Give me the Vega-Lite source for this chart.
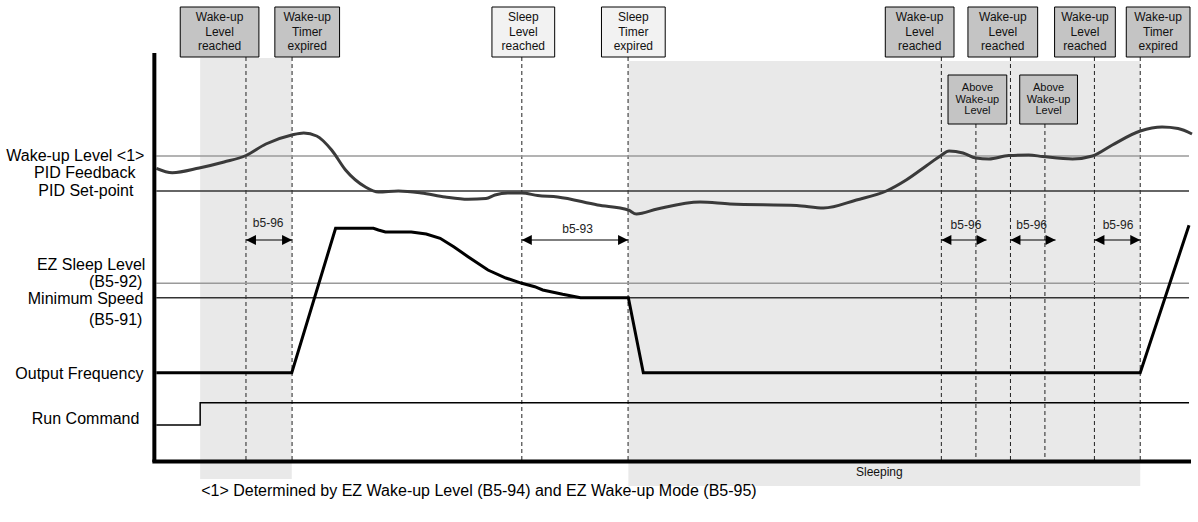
{
  "$schema": "https://vega.github.io/schema/vega-lite/v6.json",
  "width": 1198,
  "height": 522,
  "autosize": {"type": "fit", "contains": "padding"},
  "padding": 0,
  "background": "white",
  "config": {"view": {"stroke": null}, "font": "Liberation Sans", "text": {"font": "Liberation Sans"}},
  "datasets": {
    "shade": [
      {"x": 20.1, "x2": 29.3, "y": 92.8, "y2": 8.6},
      {"x": 63.1, "x2": 114.5, "y": 92.2, "y2": 7.2}
    ],
    "dashed": [
      {"x": 24.7, "y": 93.0, "y2": 12.4},
      {"x": 29.33, "y": 93.0, "y2": 12.4},
      {"x": 52.4, "y": 93.0, "y2": 12.4},
      {"x": 63.07, "y": 93.0, "y2": 12.4},
      {"x": 94.53, "y": 93.0, "y2": 12.4},
      {"x": 98.0, "y": 79.6, "y2": 12.4},
      {"x": 101.47, "y": 93.0, "y2": 12.4},
      {"x": 104.93, "y": 79.6, "y2": 12.4},
      {"x": 109.9, "y": 93.0, "y2": 12.4},
      {"x": 114.5, "y": 93.0, "y2": 12.4}
    ],
    "refs": [
      {"name": "Wake-up Level", "kind": "threshold", "x": 15.7, "x2": 119.4, "y": 73.2},
      {"name": "PID Set-point", "kind": "level", "x": 15.7, "x2": 119.4, "y": 66.2},
      {"name": "EZ Sleep Level", "kind": "threshold", "x": 15.7, "x2": 119.4, "y": 47.74},
      {"name": "Minimum Speed", "kind": "level", "x": 15.7, "x2": 119.4, "y": 44.86}
    ],
    "run": [
      {"i": 0, "x": 15.7, "y": 19.4},
      {"i": 1, "x": 20.1, "y": 19.4},
      {"i": 2, "x": 20.1, "y": 23.86},
      {"i": 3, "x": 119.4, "y": 23.86}
    ],
    "freq": [
      {"i": 0, "x": 15.7, "y": 29.86},
      {"i": 1, "x": 29.3, "y": 29.86},
      {"i": 2, "x": 33.7, "y": 58.74},
      {"i": 3, "x": 37.5, "y": 58.74},
      {"i": 4, "x": 38.0, "y": 58.4},
      {"i": 5, "x": 38.7, "y": 58.0},
      {"i": 6, "x": 41.3, "y": 58.0},
      {"i": 7, "x": 42.8, "y": 57.6},
      {"i": 8, "x": 44.2, "y": 56.74},
      {"i": 9, "x": 45.6, "y": 55.0},
      {"i": 10, "x": 47.0, "y": 53.06},
      {"i": 11, "x": 49.0, "y": 50.4},
      {"i": 12, "x": 50.8, "y": 48.8},
      {"i": 13, "x": 52.4, "y": 47.74},
      {"i": 14, "x": 53.7, "y": 47.06},
      {"i": 15, "x": 54.5, "y": 46.4},
      {"i": 16, "x": 56.5, "y": 45.54},
      {"i": 17, "x": 58.3, "y": 44.86},
      {"i": 18, "x": 63.1, "y": 44.86},
      {"i": 19, "x": 64.6, "y": 29.86},
      {"i": 20, "x": 114.5, "y": 29.86},
      {"i": 21, "x": 119.4, "y": 59.34}
    ],
    "pid": [
      {"x": 15.7, "y": 70.74}, {"x": 17.3, "y": 69.86}, {"x": 20.0, "y": 70.8},
      {"x": 22.5, "y": 72.0}, {"x": 24.7, "y": 73.3}, {"x": 26.7, "y": 75.6},
      {"x": 29.3, "y": 77.4}, {"x": 30.5, "y": 77.8}, {"x": 31.8, "y": 77.2},
      {"x": 33.3, "y": 74.4}, {"x": 34.7, "y": 70.4}, {"x": 36.7, "y": 67.0},
      {"x": 38.0, "y": 66.0}, {"x": 40.0, "y": 66.2}, {"x": 42.3, "y": 65.8},
      {"x": 44.7, "y": 65.0}, {"x": 47.0, "y": 64.54}, {"x": 48.8, "y": 64.7},
      {"x": 49.7, "y": 65.4}, {"x": 51.0, "y": 65.8}, {"x": 52.4, "y": 65.8},
      {"x": 54.0, "y": 65.3}, {"x": 56.0, "y": 65.0}, {"x": 60.0, "y": 63.4},
      {"x": 63.1, "y": 62.4}, {"x": 63.9, "y": 61.6}, {"x": 66.0, "y": 62.6},
      {"x": 70.3, "y": 64.0}, {"x": 73.3, "y": 63.6}, {"x": 80.0, "y": 63.3},
      {"x": 82.7, "y": 62.8}, {"x": 86.0, "y": 64.4}, {"x": 89.0, "y": 66.2},
      {"x": 91.0, "y": 68.4}, {"x": 93.0, "y": 71.2}, {"x": 94.5, "y": 73.3},
      {"x": 95.3, "y": 74.2}, {"x": 96.7, "y": 73.8}, {"x": 98.0, "y": 72.8},
      {"x": 99.3, "y": 72.6}, {"x": 101.3, "y": 73.3}, {"x": 103.3, "y": 73.4},
      {"x": 104.7, "y": 73.1}, {"x": 107.7, "y": 72.6}, {"x": 109.7, "y": 73.2},
      {"x": 111.7, "y": 75.4}, {"x": 114.5, "y": 78.2}, {"x": 116.7, "y": 79.0},
      {"x": 118.3, "y": 78.7}, {"x": 119.7, "y": 77.6}
    ],
    "frame": [
      {"x": 15.5, "x2": 15.5, "y": 93.8, "y2": 12.0},
      {"x": 15.3, "x2": 119.6, "y": 12.1, "y2": 12.1}
    ],
    "arrows": [
      {"x1": 24.7, "x2": 29.33, "y": 56.4, "label": "b5-96", "lx": 26.93, "ly": 59.8},
      {"x1": 52.4, "x2": 63.07, "y": 56.4, "label": "b5-93", "lx": 58.0, "ly": 58.6},
      {"x1": 94.53, "x2": 99.07, "y": 56.4, "label": "b5-96", "lx": 97.0, "ly": 59.4},
      {"x1": 101.47, "x2": 106.0, "y": 56.4, "label": "b5-96", "lx": 103.6, "ly": 59.4},
      {"x1": 109.9, "x2": 114.5, "y": 56.4, "label": "b5-96", "lx": 112.27, "ly": 59.4}
    ],
    "boxes": [
      {"x": 18.1, "x2": 26.0, "cx": 22.05, "y": 103.0, "y2": 93.0, "ty": 101.0, "kind": "wake", "text": "Wake-up\nLevel\nreached"},
      {"x": 27.6, "x2": 34.1, "cx": 30.85, "y": 103.0, "y2": 93.0, "ty": 101.0, "kind": "wake", "text": "Wake-up\nTimer\nexpired"},
      {"x": 49.4, "x2": 55.7, "cx": 52.55, "y": 103.0, "y2": 93.0, "ty": 101.0, "kind": "sleep", "text": "Sleep\nLevel\nreached"},
      {"x": 60.4, "x2": 66.8, "cx": 63.6, "y": 103.0, "y2": 93.0, "ty": 101.0, "kind": "sleep", "text": "Sleep\nTimer\nexpired"},
      {"x": 88.9, "x2": 95.8, "cx": 92.35, "y": 103.0, "y2": 93.0, "ty": 101.0, "kind": "wake", "text": "Wake-up\nLevel\nreached"},
      {"x": 97.2, "x2": 104.2, "cx": 100.7, "y": 103.0, "y2": 93.0, "ty": 101.0, "kind": "wake", "text": "Wake-up\nLevel\nreached"},
      {"x": 105.9, "x2": 112.0, "cx": 108.95, "y": 103.0, "y2": 93.0, "ty": 101.0, "kind": "wake", "text": "Wake-up\nLevel\nreached"},
      {"x": 113.1, "x2": 119.5, "cx": 116.3, "y": 103.0, "y2": 93.0, "ty": 101.0, "kind": "wake", "text": "Wake-up\nTimer\nexpired"}
    ],
    "above": [
      {"x": 95.2, "x2": 101.1, "cx": 98.15, "y": 89.4, "y2": 79.6, "ty": 86.8, "kind": "wake", "text": "Above\nWake-up\nLevel"},
      {"x": 102.4, "x2": 108.2, "cx": 105.3, "y": 89.4, "y2": 79.6, "ty": 86.8, "kind": "wake", "text": "Above\nWake-up\nLevel"}
    ],
    "labels": [
      {"text": "Wake-up Level <1>", "x": 14.5, "y": 73.3},
      {"text": "PID Feedback", "x": 13.6, "y": 69.9},
      {"text": "PID Set-point", "x": 13.4, "y": 66.3},
      {"text": "EZ Sleep Level", "x": 14.6, "y": 51.4},
      {"text": "(B5-92)", "x": 14.3, "y": 48.06},
      {"text": "Minimum Speed", "x": 14.4, "y": 44.6},
      {"text": "(B5-91)", "x": 14.3, "y": 40.4},
      {"text": "Output Frequency", "x": 14.4, "y": 29.6},
      {"text": "Run Command", "x": 14.0, "y": 20.6}
    ],
    "sleeping": [{"text": "Sleeping", "x": 88.3, "y": 10.0}],
    "footnote": [{"text": "<1> Determined by EZ Wake-up Level (B5-94) and EZ Wake-up Mode (B5-95)", "x": 20.2, "y": 6.2}]
  },
  "layer": [
    {
      "data": {"name": "shade"},
      "mark": {"type": "rect", "fill": "#e9e9e9"},
      "encoding": {
        "x": {"field": "x", "type": "quantitative", "scale": {"domain": [0, 119.8], "nice": false, "zero": false}, "axis": null},
        "x2": {"field": "x2"},
        "y": {"field": "y", "type": "quantitative", "scale": {"domain": [0, 104.4], "nice": false, "zero": false}, "axis": null},
        "y2": {"field": "y2"}
      }
    },
    {
      "data": {"name": "dashed"},
      "mark": {"type": "rule", "stroke": "#222222", "strokeWidth": 1, "strokeDash": [4, 3]},
      "encoding": {
        "x": {"field": "x", "type": "quantitative", "scale": {"domain": [0, 119.8], "nice": false, "zero": false}, "axis": null},
        "y": {"field": "y", "type": "quantitative", "scale": {"domain": [0, 104.4], "nice": false, "zero": false}, "axis": null},
        "y2": {"field": "y2"}
      }
    },
    {
      "data": {"name": "refs"},
      "mark": {"type": "rule", "strokeWidth": 1.5},
      "encoding": {
        "x": {"field": "x", "type": "quantitative", "scale": {"domain": [0, 119.8], "nice": false, "zero": false}, "axis": null},
        "x2": {"field": "x2"},
        "y": {"field": "y", "type": "quantitative", "scale": {"domain": [0, 104.4], "nice": false, "zero": false}, "axis": null},
        "stroke": {"field": "kind", "type": "nominal", "scale": {"domain": ["threshold", "level"], "range": ["#9a9a9a", "#333333"]}, "legend": null}
      }
    },
    {
      "data": {"name": "run"},
      "mark": {"type": "line", "stroke": "#000000", "strokeWidth": 1.5},
      "encoding": {
        "x": {"field": "x", "type": "quantitative", "scale": {"domain": [0, 119.8], "nice": false, "zero": false}, "axis": null},
        "y": {"field": "y", "type": "quantitative", "scale": {"domain": [0, 104.4], "nice": false, "zero": false}, "axis": null},
        "order": {"field": "i", "type": "quantitative"}
      }
    },
    {
      "data": {"name": "frame"},
      "mark": {"type": "rule", "stroke": "#000000", "strokeWidth": 4},
      "encoding": {
        "x": {"field": "x", "type": "quantitative", "scale": {"domain": [0, 119.8], "nice": false, "zero": false}, "axis": null},
        "x2": {"field": "x2"},
        "y": {"field": "y", "type": "quantitative", "scale": {"domain": [0, 104.4], "nice": false, "zero": false}, "axis": null},
        "y2": {"field": "y2"}
      }
    },
    {
      "data": {"name": "freq"},
      "mark": {"type": "line", "stroke": "#000000", "strokeWidth": 3},
      "encoding": {
        "x": {"field": "x", "type": "quantitative", "scale": {"domain": [0, 119.8], "nice": false, "zero": false}, "axis": null},
        "y": {"field": "y", "type": "quantitative", "scale": {"domain": [0, 104.4], "nice": false, "zero": false}, "axis": null},
        "order": {"field": "i", "type": "quantitative"}
      }
    },
    {
      "data": {"name": "pid"},
      "mark": {"type": "line", "stroke": "#3a3a3a", "strokeWidth": 3, "interpolate": "monotone"},
      "encoding": {
        "x": {"field": "x", "type": "quantitative", "scale": {"domain": [0, 119.8], "nice": false, "zero": false}, "axis": null},
        "y": {"field": "y", "type": "quantitative", "scale": {"domain": [0, 104.4], "nice": false, "zero": false}, "axis": null}
      }
    },
    {
      "data": {"name": "arrows"},
      "mark": {"type": "rule", "stroke": "#000000", "strokeWidth": 1.2},
      "encoding": {
        "x": {"field": "x1", "type": "quantitative", "scale": {"domain": [0, 119.8], "nice": false, "zero": false}, "axis": null},
        "x2": {"field": "x2"},
        "y": {"field": "y", "type": "quantitative", "scale": {"domain": [0, 104.4], "nice": false, "zero": false}, "axis": null}
      }
    },
    {
      "data": {"name": "arrows"},
      "transform": [{"fold": ["x1", "x2"], "as": ["end", "xv"]}],
      "mark": {"type": "point", "filled": true, "color": "#000000", "opacity": 1, "size": 100},
      "encoding": {
        "x": {"field": "xv", "type": "quantitative", "scale": {"domain": [0, 119.8], "nice": false, "zero": false}, "axis": null},
        "y": {"field": "y", "type": "quantitative", "scale": {"domain": [0, 104.4], "nice": false, "zero": false}, "axis": null},
        "shape": {"field": "end", "type": "nominal", "scale": {"domain": ["x1", "x2"], "range": ["M0,0L2,-1L2,1Z", "M0,0L-2,-1L-2,1Z"]}, "legend": null}
      }
    },
    {
      "data": {"name": "arrows"},
      "mark": {"type": "text", "fontSize": 12, "align": "center", "baseline": "middle", "color": "#222222"},
      "encoding": {
        "x": {"field": "lx", "type": "quantitative", "scale": {"domain": [0, 119.8], "nice": false, "zero": false}, "axis": null},
        "y": {"field": "ly", "type": "quantitative", "scale": {"domain": [0, 104.4], "nice": false, "zero": false}, "axis": null},
        "text": {"field": "label", "type": "nominal"}
      }
    },
    {
      "data": {"name": "boxes"},
      "mark": {"type": "rect", "stroke": "#000000", "strokeWidth": 1},
      "encoding": {
        "x": {"field": "x", "type": "quantitative", "scale": {"domain": [0, 119.8], "nice": false, "zero": false}, "axis": null},
        "x2": {"field": "x2"},
        "y": {"field": "y", "type": "quantitative", "scale": {"domain": [0, 104.4], "nice": false, "zero": false}, "axis": null},
        "y2": {"field": "y2"},
        "fill": {"field": "kind", "type": "nominal", "scale": {"domain": ["wake", "sleep"], "range": ["#c4c4c4", "#f2f2f2"]}, "legend": null}
      }
    },
    {
      "data": {"name": "boxes"},
      "mark": {"type": "text", "fontSize": 12, "lineHeight": 14.5, "lineBreak": "\n", "align": "center", "baseline": "middle", "color": "#111111"},
      "encoding": {
        "x": {"field": "cx", "type": "quantitative", "scale": {"domain": [0, 119.8], "nice": false, "zero": false}, "axis": null},
        "y": {"field": "ty", "type": "quantitative", "scale": {"domain": [0, 104.4], "nice": false, "zero": false}, "axis": null},
        "text": {"field": "text", "type": "nominal"}
      }
    },
    {
      "data": {"name": "above"},
      "mark": {"type": "rect", "stroke": "#000000", "strokeWidth": 1},
      "encoding": {
        "x": {"field": "x", "type": "quantitative", "scale": {"domain": [0, 119.8], "nice": false, "zero": false}, "axis": null},
        "x2": {"field": "x2"},
        "y": {"field": "y", "type": "quantitative", "scale": {"domain": [0, 104.4], "nice": false, "zero": false}, "axis": null},
        "y2": {"field": "y2"},
        "fill": {"field": "kind", "type": "nominal", "scale": {"domain": ["wake", "sleep"], "range": ["#c4c4c4", "#f2f2f2"]}, "legend": null}
      }
    },
    {
      "data": {"name": "above"},
      "mark": {"type": "text", "fontSize": 11, "lineHeight": 11.5, "lineBreak": "\n", "align": "center", "baseline": "middle", "color": "#111111"},
      "encoding": {
        "x": {"field": "cx", "type": "quantitative", "scale": {"domain": [0, 119.8], "nice": false, "zero": false}, "axis": null},
        "y": {"field": "ty", "type": "quantitative", "scale": {"domain": [0, 104.4], "nice": false, "zero": false}, "axis": null},
        "text": {"field": "text", "type": "nominal"}
      }
    },
    {
      "data": {"name": "labels"},
      "mark": {"type": "text", "fontSize": 16, "align": "right", "baseline": "middle", "color": "#000000"},
      "encoding": {
        "x": {"field": "x", "type": "quantitative", "scale": {"domain": [0, 119.8], "nice": false, "zero": false}, "axis": null},
        "y": {"field": "y", "type": "quantitative", "scale": {"domain": [0, 104.4], "nice": false, "zero": false}, "axis": null},
        "text": {"field": "text", "type": "nominal"}
      }
    },
    {
      "data": {"name": "sleeping"},
      "mark": {"type": "text", "fontSize": 12, "align": "center", "baseline": "middle", "color": "#111111"},
      "encoding": {
        "x": {"field": "x", "type": "quantitative", "scale": {"domain": [0, 119.8], "nice": false, "zero": false}, "axis": null},
        "y": {"field": "y", "type": "quantitative", "scale": {"domain": [0, 104.4], "nice": false, "zero": false}, "axis": null},
        "text": {"field": "text", "type": "nominal"}
      }
    },
    {
      "data": {"name": "footnote"},
      "mark": {"type": "text", "fontSize": 16, "align": "left", "baseline": "middle", "color": "#000000"},
      "encoding": {
        "x": {"field": "x", "type": "quantitative", "scale": {"domain": [0, 119.8], "nice": false, "zero": false}, "axis": null},
        "y": {"field": "y", "type": "quantitative", "scale": {"domain": [0, 104.4], "nice": false, "zero": false}, "axis": null},
        "text": {"field": "text", "type": "nominal"}
      }
    }
  ]
}
